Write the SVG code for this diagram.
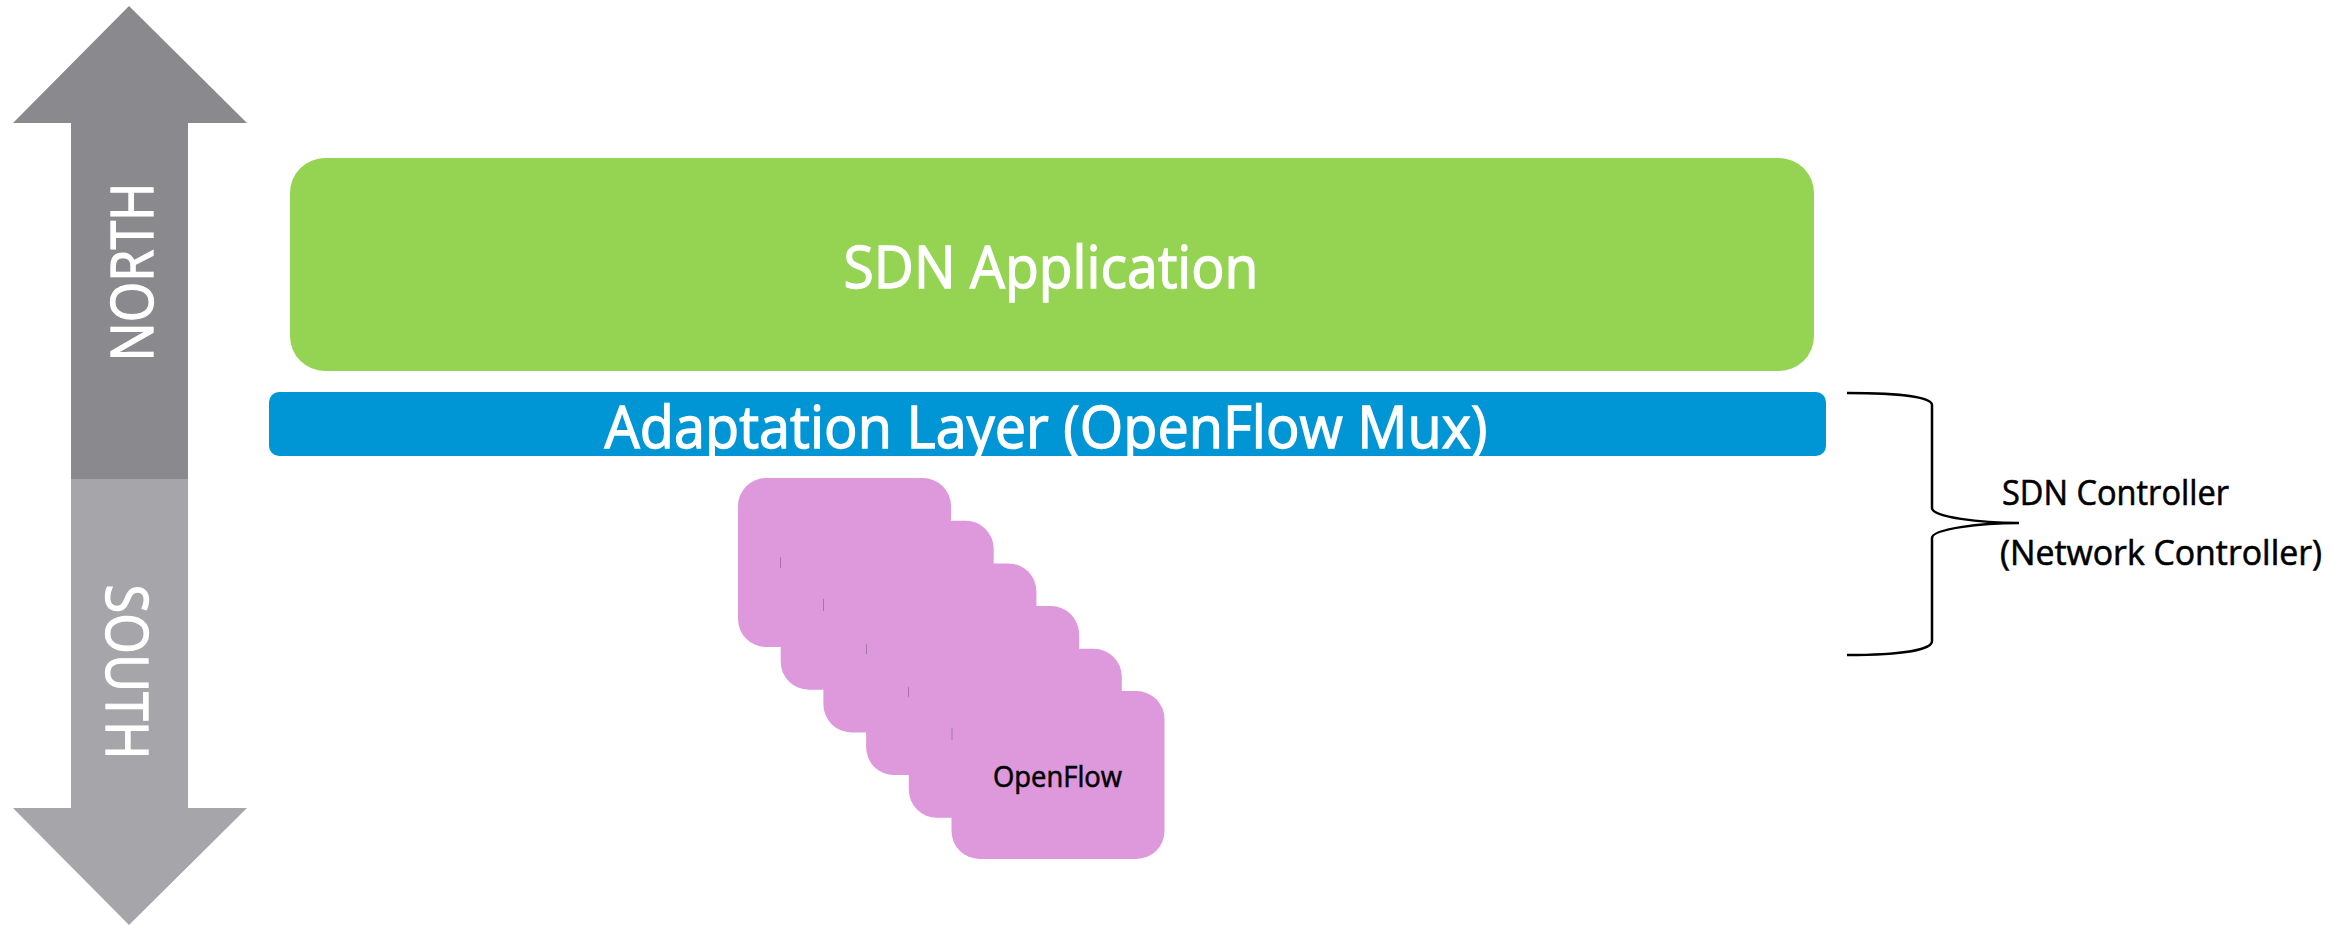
<svg xmlns="http://www.w3.org/2000/svg" width="2332" height="925" viewBox="0 0 2332 925">
  <style>
    text { font-family: "Open Sans", "Liberation Sans", Arial, sans-serif; }
    .white { fill: #ffffff; stroke: #ffffff; stroke-width: 1.3; }
    .dark { fill: #000000; stroke: #000000; stroke-width: 0.6; }
    .switch { fill: #de98dc; }
    .seam { stroke: #7a5a78; stroke-width: 1; opacity: 0.55; }
  </style>

  <!-- Northbound / southbound direction arrow -->
  <g id="north-arrow">
    <polygon points="129,6 247,123 188,123 188,479 71,479 71,123 13,123" fill="#8a898e"/>
    <text class="white" transform="translate(153,272) rotate(-90)" font-size="59" text-anchor="middle" textLength="179" lengthAdjust="spacingAndGlyphs">NORTH</text>
  </g>
  <g id="south-arrow">
    <polygon points="71,479 188,479 188,808 247,808 129,925 13,808 71,808" fill="#a6a5aa"/>
    <text class="white" transform="translate(106,672) rotate(90)" font-size="59" text-anchor="middle" textLength="175" lengthAdjust="spacingAndGlyphs">SOUTH</text>
  </g>

  <!-- Application layer -->
  <g id="sdn-application">
    <rect x="290" y="158" width="1524" height="213" rx="35" ry="35" fill="#95d353"/>
    <text class="white" x="1051" y="288" font-size="59" text-anchor="middle" textLength="415" lengthAdjust="spacingAndGlyphs">SDN Application</text>
  </g>

  <!-- Adaptation layer -->
  <g id="adaptation-layer">
    <rect x="269" y="392" width="1557" height="64" rx="10" ry="10" fill="#0096d6"/>
    <text class="white" x="1046" y="448" font-size="59" text-anchor="middle" textLength="883" lengthAdjust="spacingAndGlyphs">Adaptation Layer (OpenFlow Mux)</text>
  </g>

  <!-- Stack of OpenFlow switches -->
  <g id="openflow-switches">
    <rect class="switch" x="738" y="478" width="213" height="169" rx="28" ry="28"/>
    <rect class="switch" x="780.7" y="520.7" width="213" height="169" rx="28" ry="28"/>
    <rect class="switch" x="823.4" y="563.4" width="213" height="169" rx="28" ry="28"/>
    <rect class="switch" x="866.1" y="606.1" width="213" height="169" rx="28" ry="28"/>
    <rect class="switch" x="908.8" y="648.8" width="213" height="169" rx="28" ry="28"/>
    <rect class="switch" x="951.5" y="691" width="213" height="168" rx="28" ry="28"/>
    <line class="seam" x1="780.5" y1="557" x2="780.5" y2="568"/>
    <line class="seam" x1="823.5" y1="599" x2="823.5" y2="611"/>
    <line class="seam" x1="866.5" y1="644" x2="866.5" y2="654"/>
    <line class="seam" x1="908.5" y1="687" x2="908.5" y2="697"/>
    <line class="seam" x1="952" y1="728" x2="952" y2="740"/>
    <text class="dark" x="993" y="787" font-size="29" textLength="129" lengthAdjust="spacingAndGlyphs">OpenFlow</text>
  </g>

  <!-- Brace grouping the controller layers -->
  <g id="connectors">
    <path d="M1847,393 C1900,393 1932,397 1932,405 L1932,508 C1932,517 1980,523 2019,523 C1980,523 1932,529 1932,538 L1932,641 C1932,650 1900,655 1847,655" fill="none" stroke="#000000" stroke-width="2.5"/>
  </g>

  <g id="sdn-controller-label">
    <text class="dark" x="2002" y="505" font-size="34" textLength="227" lengthAdjust="spacingAndGlyphs">SDN Controller</text>
    <text class="dark" x="2000" y="565" font-size="34" textLength="322" lengthAdjust="spacingAndGlyphs">(Network Controller)</text>
  </g>
</svg>
